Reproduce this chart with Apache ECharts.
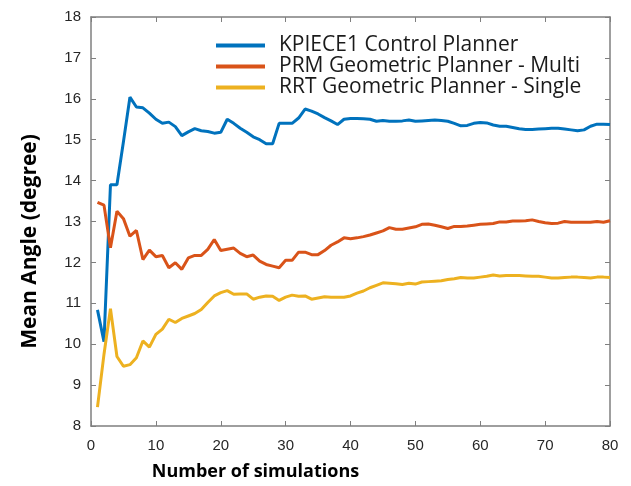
<!DOCTYPE html>
<html>
<head>
<meta charset="utf-8">
<script src="https://cdn.jsdelivr.net/npm/echarts@6/dist/echarts.min.js"></script>
<style>
  html, body { margin: 0; padding: 0; background: #fff; }
  #chart { width: 631px; height: 486px; }
</style>
</head>
<body>
<div id="chart"></div>
<script>
  // number of simulations: 1..80
  var sims = [];
  for (var i = 1; i <= 80; i++) sims.push(i);

  var kpiece = [
    10.84, 10.06, 13.9, 13.9, 14.95, 16.04, 15.8, 15.78, 15.65, 15.5,
    15.4, 15.43, 15.32, 15.1, 15.19, 15.27, 15.22, 15.2, 15.16, 15.18,
    15.5, 15.4, 15.28, 15.18, 15.07, 15.0, 14.9, 14.9, 15.4, 15.4,
    15.4, 15.53, 15.75, 15.7, 15.63, 15.54, 15.46, 15.37, 15.5, 15.52,
    15.52, 15.51, 15.5, 15.45, 15.47, 15.45, 15.45, 15.46, 15.48, 15.45,
    15.46, 15.47, 15.48, 15.47, 15.45, 15.4, 15.34, 15.35, 15.4, 15.42,
    15.41, 15.36, 15.33, 15.33, 15.3, 15.27, 15.25, 15.25, 15.26, 15.27,
    15.28, 15.28, 15.26, 15.24, 15.22, 15.24, 15.33, 15.38, 15.38, 15.37
  ];
  var prm = [
    13.47, 13.4, 12.36, 13.25, 13.07, 12.64, 12.78, 12.07, 12.3, 12.14,
    12.17, 11.87, 11.99, 11.83, 12.11, 12.17, 12.17, 12.32, 12.56, 12.29,
    12.32, 12.35, 12.22, 12.14, 12.18, 12.03, 11.95, 11.91, 11.87, 12.05,
    12.05, 12.25, 12.25, 12.19, 12.19, 12.29, 12.42, 12.5, 12.6, 12.58,
    12.6, 12.63, 12.67, 12.72, 12.77, 12.85, 12.81, 12.81, 12.84, 12.87,
    12.93, 12.94, 12.91, 12.87, 12.83, 12.88, 12.88, 12.89, 12.91, 12.93,
    12.94, 12.95, 12.99, 12.99, 13.01, 13.01, 13.02, 13.04, 13.0, 12.97,
    12.95, 12.96, 13.0, 12.98, 12.98, 12.98, 12.98, 13.0, 12.98, 13.02
  ];
  var rrt = [
    8.46, 9.75, 10.87, 9.7, 9.46, 9.5, 9.67, 10.08, 9.93, 10.24,
    10.37, 10.61, 10.53, 10.63, 10.69, 10.75, 10.85, 11.02, 11.18, 11.26,
    11.31, 11.22, 11.23, 11.23, 11.1, 11.15, 11.18, 11.17, 11.07, 11.15,
    11.2, 11.17, 11.18, 11.1, 11.13, 11.16, 11.15, 11.15, 11.15, 11.18,
    11.25, 11.3, 11.38, 11.44, 11.5, 11.49, 11.48, 11.46, 11.49, 11.47,
    11.52, 11.53, 11.54, 11.55, 11.58, 11.6, 11.63, 11.62, 11.62, 11.64,
    11.66, 11.69, 11.67, 11.68, 11.68, 11.68, 11.67, 11.66, 11.66, 11.64,
    11.62, 11.62, 11.63, 11.64, 11.64, 11.63, 11.62, 11.64, 11.64, 11.63
  ];
  var seriesNames = ['KPIECE1 Control Planner', 'PRM Geometric Planner - Multi', 'RRT Geometric Planner - Single'];

  function pairs(ys) {
    return sims.map(function (x, k) { return [x, ys[k]]; });
  }

  var axisColor = '#7f7f7f';
  var labelStyle = { color: '#262626', fontSize: 15, fontFamily: 'Liberation Sans' };

  var option = {
    color: ['#0072BD', '#D95319', '#EDB120'],
    animation: false,
    grid: { left: 91, right: 21, top: 17, bottom: 59 },
    legend: {
      data: seriesNames,
      orient: 'vertical',
      left: 211,
      top: 30,
      itemWidth: 49,
      itemHeight: 4,
      itemGap: 0,
      icon: 'rect',
      textStyle: { fontFamily: 'Open Sans', fontSize: 21, lineHeight: 20, color: '#1a1a1a', padding: [0, 0, 0, 9] }
    },
    xAxis: [
      {
        type: 'value', min: 0, max: 80, interval: 10,
        name: 'Number of simulations',
        nameLocation: 'middle', nameGap: 37,
        nameTextStyle: { fontFamily: 'Open Sans', fontWeight: 'bold', fontSize: 18, color: '#000', padding: [0, 190, 0, 0] },
        axisLine: { lineStyle: { color: axisColor, width: 1.5 } },
        axisTick: { inside: true, length: 5, lineStyle: { color: axisColor } },
        axisLabel: Object.assign({ margin: 12 }, labelStyle),
        splitLine: { show: false }
      },
      {
        type: 'value', min: 0, max: 80, interval: 10, position: 'top',
        axisLine: { onZero: false, lineStyle: { color: axisColor, width: 1.5 } },
        axisTick: { inside: true, length: 5, lineStyle: { color: axisColor } },
        axisLabel: { show: false },
        splitLine: { show: false }
      }
    ],
    yAxis: [
      {
        type: 'value', min: 8, max: 18, interval: 1,
        name: 'Mean Angle (degree)',
        nameLocation: 'middle', nameGap: 50,
        nameTextStyle: { fontFamily: 'Open Sans', fontWeight: 'bold', fontSize: 21, color: '#000', padding: [0, 40, 0, 0] },
        axisLine: { show: true, lineStyle: { color: axisColor, width: 1.5 } },
        axisTick: { show: true, inside: true, length: 5, lineStyle: { color: axisColor } },
        axisLabel: Object.assign({ margin: 10 }, labelStyle),
        splitLine: { show: false }
      },
      {
        type: 'value', min: 8, max: 18, interval: 1, position: 'right',
        axisLine: { show: true, onZero: false, lineStyle: { color: axisColor, width: 1.5 } },
        axisTick: { show: true, inside: true, length: 5, lineStyle: { color: axisColor } },
        axisLabel: { show: false },
        splitLine: { show: false }
      }
    ],
    series: [
      { name: seriesNames[0], type: 'line', data: pairs(kpiece), showSymbol: false, lineStyle: { width: 3 } },
      { name: seriesNames[1], type: 'line', data: pairs(prm), showSymbol: false, lineStyle: { width: 3 } },
      { name: seriesNames[2], type: 'line', data: pairs(rrt), showSymbol: false, lineStyle: { width: 3 } }
    ]
  };

  var myChart = echarts.init(document.getElementById('chart'));
  myChart.setOption(option);
</script>
</body>
</html>
